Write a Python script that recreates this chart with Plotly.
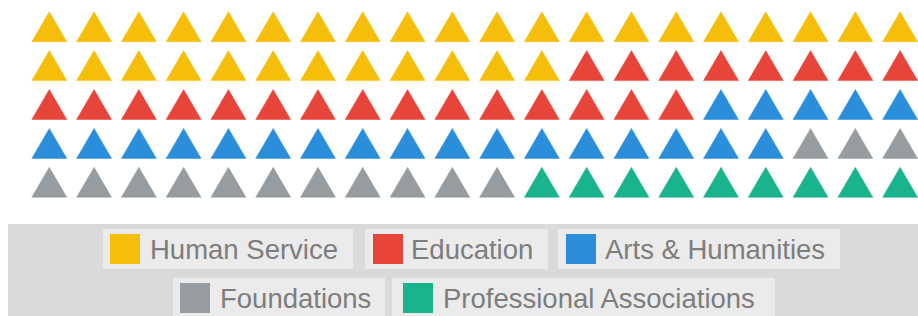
import plotly.graph_objects as go

# ---- data ----
categories = ["Human Service", "Education", "Arts & Humanities", "Foundations", "Professional Associations"]
counts = [32, 23, 22, 14, 9]
colors = ["#F5BE0B", "#E8453A", "#2B8EDB", "#969CA0", "#19B38D"]
n_cols = 20
n_rows = 5

# ---- geometry (pixels) ----
W, H = 918, 316
col_x0, col_dx = 49.3, 44.78        # pixel centre of column 1, spacing
row_y0, row_dy = 26.7, 38.9         # pixel centre of row 1, spacing
tri_w, tri_h = 35.0, 30.0           # triangle size in pixels

# axis ranges so that 1 unit = one cell
x_lo = 1 - col_x0 / col_dx
x_hi = x_lo + W / col_dx
y_top = 1 - row_y0 / row_dy
y_bot = y_top + H / row_dy
hw = (tri_w / 2) / col_dx
hh = (tri_h / 2) / row_dy

fig = go.Figure()

# assign cells in row-major order
cell = 0
for name, cnt, colr in zip(categories, counts, colors):
    xs, ys = [], []
    for _ in range(cnt):
        r = cell // n_cols + 1
        c = cell % n_cols + 1
        xs += [c - hw, c + hw, c, c - hw, None]
        ys += [r + hh, r + hh, r - hh, r + hh, None]
        cell += 1
    fig.add_trace(go.Scatter(
        x=xs, y=ys, mode="lines", fill="toself", fillcolor=colr,
        line=dict(color=colr, width=0.5), name=name, showlegend=False,
        hoverinfo="skip"))

# ---- custom legend (layout) ----
def px(x):
    return x / W

def py(y):
    return 1 - y / H

shapes = [dict(type="rect", xref="paper", yref="paper",
               x0=px(8), x1=px(W), y0=py(H), y1=py(224),
               fillcolor="#DADADA", line=dict(width=0), layer="below")]

# legend item layout: (box_left, box_right, square_left, text_left, row_centre_y)
legend_layout = [
    (103, 353, 110, 151, 249),
    (365, 548, 373, 412, 249),
    (558, 840, 566, 606, 249),
    (173, 385, 180, 221, 298),
    (392, 775, 403, 444, 298),
]
annotations = []
for name, colr, (bl, br, sl, tl, cy) in zip(categories, colors, legend_layout):
    shapes.append(dict(type="rect", xref="paper", yref="paper",
                       x0=px(bl), x1=px(br), y0=py(cy + 20), y1=py(cy - 20),
                       fillcolor="#EBEBEB", line=dict(width=0), layer="below"))
    shapes.append(dict(type="rect", xref="paper", yref="paper",
                       x0=px(sl), x1=px(sl + 30), y0=py(cy + 15), y1=py(cy - 15),
                       fillcolor=colr, line=dict(width=0)))
    annotations.append(dict(xref="paper", yref="paper", x=px(tl - 2), y=py(cy),
                            xanchor="left", yanchor="middle", showarrow=False,
                            text=name, borderpad=0,
                            font=dict(family="Arial, Liberation Sans, sans-serif",
                                      size=27.5, color="#7D7D7D")))

fig.update_layout(
    width=W, height=H,
    margin=dict(l=0, r=0, t=0, b=0),
    paper_bgcolor="white", plot_bgcolor="white",
    xaxis=dict(range=[x_lo, x_hi], visible=False, fixedrange=True),
    yaxis=dict(range=[y_bot, y_top], visible=False, fixedrange=True),
    shapes=shapes, annotations=annotations, showlegend=False,
)

fig.write_html("out.html", config={"displayModeBar": False},
               post_script="document.body.style.margin='0';document.body.style.overflow='hidden';")
